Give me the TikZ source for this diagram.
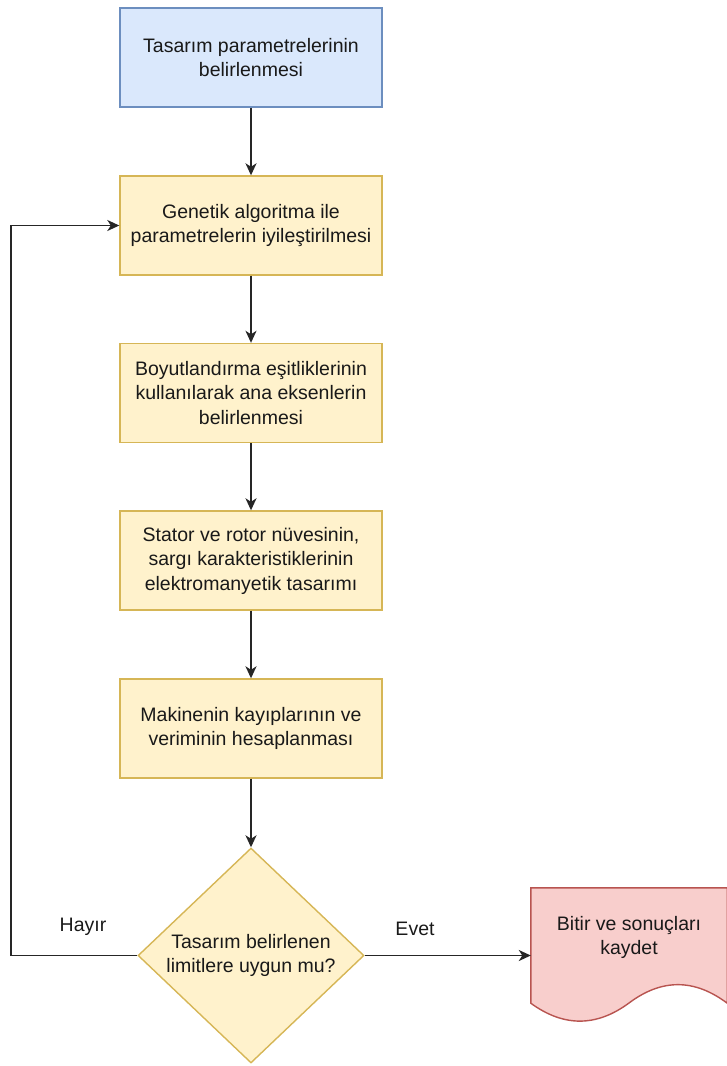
\documentclass[tikz,border=0pt]{standalone}
\usepackage{fontspec}
\setmainfont{Liberation Sans}
\usetikzlibrary{shapes.geometric,arrows.meta}
\definecolor{bluefill}{HTML}{DAE8FC}
\definecolor{bluedraw}{HTML}{6C8EBF}
\definecolor{yelfill}{HTML}{FFF2CC}
\definecolor{yeldraw}{HTML}{D6B656}
\definecolor{redfill}{HTML}{F8CECC}
\definecolor{reddraw}{HTML}{B85450}
\tikzset{
  stepbox/.style={draw=yeldraw, fill=yelfill, line width=1.4pt,
    minimum width=262pt, minimum height=99pt, align=center},
  decision/.style={diamond, draw=yeldraw, fill=yelfill, line width=1.4pt,
    minimum width=226pt, minimum height=215pt, inner sep=0pt, align=center},
  arr/.style={-{Stealth[length=12pt,width=11pt,inset=3.5pt]}, line width=1.8pt, black!85}
}
\begin{document}
\begin{tikzpicture}[x=1pt, y=-1pt, every node/.style={font=\fontsize{19.5}{24.5}\selectfont, text=black!90}]
  \useasboundingbox (0,0) rectangle (726,1066);
  \node [stepbox, draw=bluedraw, fill=bluefill] (start) at (251,57.5)
    {Tasarım parametrelerinin\\belirlenmesi};
  \node [stepbox] (gen) at (251,225.5)
    {Genetik algoritma ile\\parametrelerin iyileştirilmesi};
  \node [stepbox] (size) at (251,393)
    {Boyutlandırma eşitliklerinin\\kullanılarak ana eksenlerin\\belirlenmesi};
  \node [stepbox] (core) at (251,560.5)
    {Stator ve rotor nüvesinin,\\sargı karakteristiklerinin\\elektromanyetik tasarımı};
  \node [stepbox] (loss) at (251,728.5)
    {Makinenin kayıplarının ve\\veriminin hesaplanması};
  \node [decision] (check) at (251,955.5)
    {Tasarım belirlenen\\limitlere uygun mu?};
  % document shape with wavy bottom
  \node [minimum width=196pt, minimum height=115pt, inner sep=0pt] (finish) at (629,945.5) {};
  \draw [draw=reddraw, fill=redfill, line width=1.4pt]
    (finish.north west) -- (finish.north east) -- (finish.south east)
    .. controls (694.3,978.5) and (661.7,978.5) .. (629,1003)
    .. controls (596.3,1027.1) and (563.7,1027.1) .. (finish.south west) -- cycle;
  \node [align=center] (finishtext) at (629,937.5) {Bitir ve sonuçları\\kaydet};
  \draw [arr] (start) -- (gen);
  \draw [arr] (gen) -- (size);
  \draw [arr] (size) -- (core);
  \draw [arr] (core) -- (loss);
  \draw [arr] (loss) -- (check);
  \draw [arr] (check.east) -- (check.east -| finish.west)
    node [above] (yes) at (415,940) {Evet};
  \draw [arr] (check.west) -- ++(-126,0) |- (gen.west)
    node [above] (no) at (83,940) {Hayır};
\end{tikzpicture}
\end{document}
